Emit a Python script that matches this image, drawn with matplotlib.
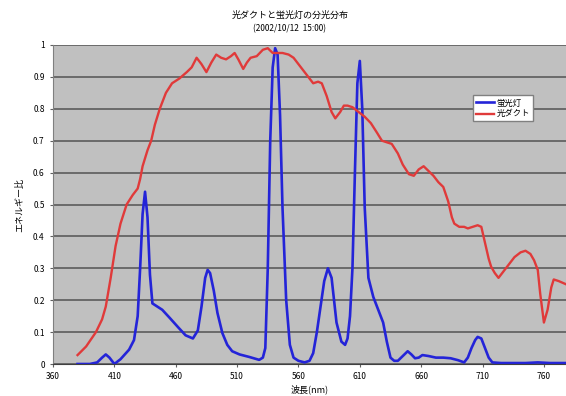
import matplotlib
matplotlib.use('Agg')
import numpy as np
from matplotlib import pyplot as plt

plt.rcParams['font.family'] = ['Noto Sans CJK JP', 'DejaVu Sans']

# fluorescent lamp (蛍光灯)
wl_lamp = [380, 390, 396, 400, 403, 406, 410, 415, 422, 426, 429, 431, 433, 435,
           437, 439, 441, 445, 449, 455, 462, 468, 474, 478, 481, 484, 486, 488,
           491, 494, 498, 502, 506, 512, 520, 528, 531, 533, 535, 537, 539, 541,
           543, 545, 547, 550, 553, 556, 560, 565, 569, 572, 575, 578, 581, 584,
           587, 591, 595, 598, 600, 602, 604, 606, 608, 610, 612, 614, 617, 621,
           624, 627, 629, 632, 635, 638, 641, 645, 649, 652, 655, 658, 661, 666,
           672, 678, 684, 690, 695, 698, 701, 704, 706, 709, 712, 715, 718, 725,
           735, 745, 755, 765, 778]
e_lamp = [0.0, 0.0, 0.005, 0.02, 0.03, 0.02, 0.0, 0.015, 0.045, 0.075, 0.15, 0.3,
          0.47, 0.54, 0.46, 0.28, 0.19, 0.18, 0.17, 0.145, 0.115, 0.09, 0.08, 0.105,
          0.18, 0.27, 0.295, 0.285, 0.23, 0.16, 0.097, 0.06, 0.04, 0.03, 0.022,
          0.013, 0.02, 0.05, 0.3, 0.7, 0.93, 0.99, 0.97, 0.78, 0.49, 0.2, 0.06, 0.02,
          0.01, 0.005, 0.01, 0.034, 0.1, 0.18, 0.26, 0.30, 0.27, 0.13, 0.07, 0.06,
          0.08, 0.15, 0.3, 0.6, 0.88, 0.95, 0.8, 0.49, 0.27, 0.21, 0.18, 0.15, 0.13,
          0.07, 0.02, 0.01, 0.01, 0.025, 0.04, 0.03, 0.018, 0.02, 0.028, 0.025,
          0.02, 0.02, 0.018, 0.012, 0.005, 0.02, 0.05, 0.075, 0.085, 0.08, 0.05,
          0.02, 0.005, 0.003, 0.003, 0.003, 0.005, 0.003, 0.003]

# light duct (光ダクト)
wl_duct = [380, 387, 395, 400, 403, 407, 411, 415, 420, 425, 429, 431, 433, 437,
           440, 443, 447, 452, 457, 463, 469, 473, 477, 481, 485, 489, 493, 497,
           501, 505, 508, 511, 515, 518, 521, 526, 531, 535, 539, 543, 547, 552,
           556, 561, 566, 572, 576, 579, 583, 587, 590, 594, 597, 600, 604, 609,
           614, 619, 624, 628, 632, 636, 641, 645, 650, 654, 658, 662, 666, 670,
           674, 678, 682, 685, 687, 691, 695, 698, 702, 706, 709, 712, 715, 717,
           720, 723, 727, 731, 736, 741, 745, 749, 752, 755, 757, 760, 763, 766,
           768, 772, 778]
e_duct = [0.028, 0.055, 0.1, 0.14, 0.18, 0.27, 0.37, 0.44, 0.50, 0.53, 0.55, 0.58,
          0.62, 0.67, 0.70, 0.75, 0.80, 0.85, 0.88, 0.895, 0.915, 0.93, 0.96, 0.94,
          0.915, 0.945, 0.97, 0.96, 0.955, 0.965, 0.975, 0.955, 0.925, 0.945, 0.96,
          0.965, 0.985, 0.99, 0.975, 0.975, 0.975, 0.97, 0.96, 0.935, 0.91, 0.88,
          0.885, 0.88, 0.84, 0.79, 0.77, 0.79, 0.81, 0.81, 0.805, 0.79, 0.775,
          0.755, 0.725, 0.70, 0.695, 0.69, 0.66, 0.625, 0.595, 0.59, 0.61, 0.62,
          0.605, 0.59, 0.57, 0.555, 0.51, 0.46, 0.44, 0.43, 0.43, 0.425, 0.43,
          0.435, 0.43, 0.38, 0.33, 0.305, 0.285, 0.27, 0.29, 0.31, 0.335, 0.35,
          0.355, 0.345, 0.325, 0.295, 0.22, 0.13, 0.17, 0.24, 0.265, 0.26, 0.25]

xticks = [360, 410, 460, 510, 560, 610, 660, 710, 760]
yticks = [0, 0.1, 0.2, 0.3, 0.4, 0.5, 0.6, 0.7, 0.8, 0.9, 1]
ytick_labels = ['0', '0.1', '0.2', '0.3', '0.4', '0.5', '0.6', '0.7', '0.8', '0.9', '1']

fig = plt.figure(figsize=(5.66, 3.96), dpi=100)
ax = fig.add_axes([53/566, 1 - 364/396, 513/566, 319/396])
ax.set_facecolor('#c0c0c0')

ax.plot(wl_lamp, e_lamp, color='#2424d8', lw=1.9, label='蛍光灯',
        solid_joinstyle='round')
ax.plot(wl_duct, e_duct, color='#e03a3a', lw=1.7, label='光ダクト',
        solid_joinstyle='round')

ax.set_xlim(360, 778)
ax.set_ylim(0, 1)
ax.set_xticks(xticks)
ax.set_yticks(yticks)
ax.set_yticklabels(ytick_labels)
ax.tick_params(labelsize=6, length=2, color='#606060', pad=4)
ax.grid(axis='y', color='#6a6a6a', lw=1.4)
ax.set_axisbelow(True)
for s in ['top', 'right']:
    ax.spines[s].set_visible(False)
ax.spines['left'].set_color('#808080')
ax.spines['bottom'].set_color('#404040')

ax.set_xlabel('波長(nm)', fontsize=6.5, labelpad=2)
ax.set_ylabel('エネルギー比', fontsize=6.5, labelpad=6)
fig.text(0.512, 0.955, '光ダクトと蛍光灯の分光分布', ha='center', fontsize=6.5)
fig.text(0.512, 0.922, '(2002/10/12  15:00)', ha='center', fontsize=6)

leg = ax.legend(loc='upper left', bbox_to_anchor=(0.81, 0.855), fontsize=6,
                frameon=True, fancybox=False, handlelength=2.2, borderpad=0.35,
                labelspacing=0.25, handletextpad=0.3)
leg.get_frame().set_facecolor('white')
leg.get_frame().set_edgecolor('#808080')
leg.get_frame().set_alpha(1)

plt.savefig('out.png', dpi=100)
